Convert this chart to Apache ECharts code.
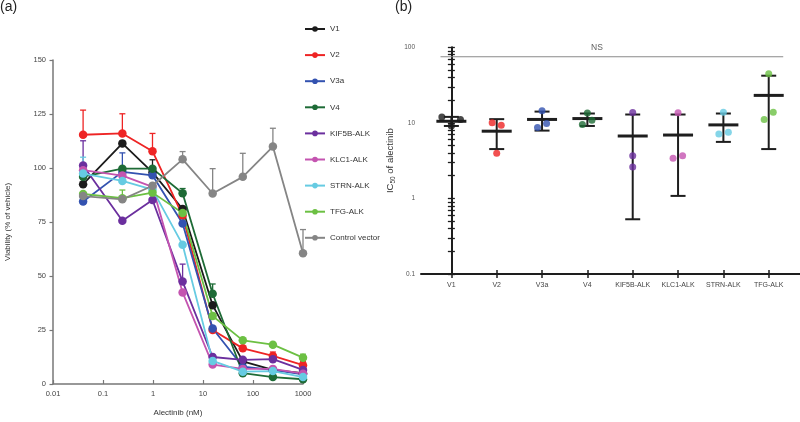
<!DOCTYPE html>
<html><head><meta charset="utf-8">
<script src="https://cdn.jsdelivr.net/npm/echarts@6/dist/echarts.min.js"></script>
<style>html,body{margin:0;padding:0;background:#fff}#c{width:800px;height:422px}</style>
</head><body><div id="c"></div>
<script>
// ---------- Panel (a): dose-response ----------
const doses = [0.04, 0.244, 0.977, 3.91, 15.6, 62.5, 250, 1000];
const doseTickValues = [0.01, 0.1, 1, 10, 100, 1000];
const doseTickLabels = ['0.01', '0.1', '1', '10', '100', '1000'];
const viabTicks = [0, 25, 50, 75, 100, 125, 150];

const seriesNames = ['V1', 'V2', 'V3a', 'V4', 'KIF5B-ALK', 'KLC1-ALK', 'STRN-ALK', 'TFG-ALK', 'Control vector'];
const seriesColors = ['#1c1c1c', '#ee2424', '#3352b0', '#1e6b36', '#6b2f9e', '#c454b0', '#66cbe2', '#6cc043', '#858585'];

const v1   = [92.5, 111.4, 98, 81, 36.5, 10.5, 6.5, 5];
const v2   = [115.4, 116, 107.8, 78, 25, 16.5, 13, 8.7];
const v3a  = [84.5, 98.2, 96.6, 74.3, 25.7, 8, 6.5, 4.5];
const v4   = [96, 99.7, 99.7, 88.3, 41.8, 5, 3.2, 2.2];
const kif5b = [101.2, 75.6, 85.2, 47.4, 12.5, 11.2, 11.5, 6.5];
const klc1 = [99, 96.5, 91.3, 42.4, 9, 7, 7, 4.8];
const strn = [97.4, 94, 90, 64.5, 10.7, 5.7, 6, 3.2];
const tfg  = [88, 86, 88.6, 79.2, 31.5, 20.2, 18.2, 12.2];
const ctrl = [87, 85.5, 91.8, 104, 88.2, 95.9, 109.9, 60.5];

// upper error-bar ends (null = not visible)
const v1Err   = [null, null, 103.8, null, null, null, null, null];
const v2Err   = [126.8, 125.1, 116, null, null, null, 14.8, 10.5];
const v3aErr  = [null, 107, null, null, null, null, null, null];
const v4Err   = [null, null, null, 90.5, 46.3, null, null, null];
const kif5bErr = [112.6, null, null, 55.5, null, null, null, null];
const klc1Err = [null, null, null, null, null, null, null, null];
const strnErr = [105, null, null, null, null, null, null, null];
const tfgErr  = [null, 89.8, null, null, null, null, null, 13.8];
const ctrlErr = [null, null, null, 107.6, 99.7, 106.8, 118.4, 71.5];

const allVals = [v1, v2, v3a, v4, kif5b, klc1, strn, tfg, ctrl];
const allErrs = [v1Err, v2Err, v3aErr, v4Err, kif5bErr, klc1Err, strnErr, tfgErr, ctrlErr];

// ---------- Panel (b): IC50 ----------
const icCats = ['V1', 'V2', 'V3a', 'V4', 'KIF5B-ALK', 'KLC1-ALK', 'STRN-ALK', 'TFG-ALK'];
const icColors = ['#1c1c1c', '#ee2424', '#3352b0', '#1e6b36', '#6b2f9e', '#c454b0', '#66cbe2', '#6cc043'];
const icPoints = [[12.0, 9.1, 11.1], [10.0, 9.3, 3.95], [14.5, 8.7, 9.8], [13.5, 9.5, 10.8],
                  [13.7, 3.68, 2.6], [13.6, 3.4, 3.68], [13.8, 7.1, 7.5], [44.7, 11.1, 13.8]];
const icJitter = [[-0.21, 0, 0.2], [-0.1, 0.1, 0], [0, -0.1, 0.1], [0, -0.11, 0.1],
                  [0, 0, 0], [0, -0.11, 0.1], [0, -0.1, 0.11], [0, -0.1, 0.1]];
const icMean = [10.5, 7.76, 11.1, 11.4, 6.7, 6.9, 9.4, 23.1];
const icLow  = [9.1, 4.5, 7.9, 9.1, 0.53, 1.08, 5.6, 4.5];
const icHigh = [12.0, 11.2, 14.1, 13.3, 12.9, 12.9, 13.3, 42.1];
const icTickValues = [0.1, 1, 10, 100];
const icMinorTicks = [0.1,0.2,0.3,0.4,0.5,0.6,0.7,0.8,0.9,1,2,3,4,5,6,7,8,9,10,20,30,40,50,60,70,80,90,100];
const nsLevel = 75;
const nsSpan = [-0.24, 7.32];
const nsLabelX = 3.21;

const FONT = '"Liberation Sans", Arial, sans-serif';
const chart = echarts.init(document.getElementById('c'), null, {renderer: 'canvas'});

const series = [];
allErrs.forEach((errs, i) => {
  const data = [];
  errs.forEach((e, j) => { if (e !== null) data.push([doses[j], allVals[i][j], e]); });
  const col = seriesColors[i];
  series.push({
    type: 'custom', xAxisIndex: 0, yAxisIndex: 0, z: 2,
    encode: {x: 0, y: [1, 2]},
    data: data,
    renderItem: function (params, api) {
      const p0 = api.coord([api.value(0), api.value(1)]);
      const p1 = api.coord([api.value(0), api.value(2)]);
      return {type: 'group', children: [
        {type: 'line', shape: {x1: p0[0], y1: p0[1], x2: p1[0], y2: p1[1]}, style: {stroke: col, lineWidth: 1.3}},
        {type: 'line', shape: {x1: p1[0] - 3, y1: p1[1], x2: p1[0] + 3, y2: p1[1]}, style: {stroke: col, lineWidth: 1.3}}
      ]};
    }
  });
});
allVals.forEach((vals, i) => {
  series.push({
    name: seriesNames[i], type: 'line', xAxisIndex: 0, yAxisIndex: 0, z: 3,
    data: vals.map((v, j) => [doses[j], v]),
    symbol: 'circle', symbolSize: 8.5,
    lineStyle: {width: 1.8, color: seriesColors[i]},
    itemStyle: {color: seriesColors[i]},
    animation: false
  });
});

const ptData = [];
icPoints.forEach((pts, c) => pts.forEach((v, k) => {
  ptData.push({value: [c + icJitter[c][k], v], itemStyle: {color: icColors[c]}});
}));
series.push({
  type: 'custom', xAxisIndex: 1, yAxisIndex: 1, z: 3,
  encode: {x: 0, y: [1, 2, 3]},
  data: icCats.map((c, i) => [i, icMean[i], icLow[i], icHigh[i]]),
  renderItem: function (params, api) {
    const x = api.value(0);
    const pm = api.coord([x, api.value(1)]);
    const pl = api.coord([x, api.value(2)]);
    const ph = api.coord([x, api.value(3)]);
    const st = {stroke: '#1e1e1e', lineWidth: 2};
    return {type: 'group', children: [
      {type: 'line', shape: {x1: pl[0], y1: pl[1], x2: ph[0], y2: ph[1]}, style: st},
      {type: 'line', shape: {x1: pl[0] - 7.5, y1: pl[1], x2: pl[0] + 7.5, y2: pl[1]}, style: st},
      {type: 'line', shape: {x1: ph[0] - 7.5, y1: ph[1], x2: ph[0] + 7.5, y2: ph[1]}, style: st},
      {type: 'line', shape: {x1: pm[0] - 15, y1: pm[1], x2: pm[0] + 15, y2: pm[1]}, style: {stroke: '#1e1e1e', lineWidth: 3}}
    ]};
  }
});
series.push({
  type: 'scatter', xAxisIndex: 1, yAxisIndex: 1, data: ptData, symbolSize: 7, z: 5
});
series.push({
  type: 'line', xAxisIndex: 1, yAxisIndex: 1, symbol: 'none', silent: true,
  data: [[nsSpan[0], nsLevel], [nsSpan[1], nsLevel]],
  lineStyle: {color: '#8a8a8a', width: 1.2}
});
series.push({
  type: 'scatter', xAxisIndex: 1, yAxisIndex: 1, symbolSize: 0, silent: true,
  data: [[nsLabelX, nsLevel]],
  label: {show: true, formatter: 'NS', position: 'top', distance: 5, fontSize: 8.5, color: '#333', fontFamily: FONT}
});

const labelStyleA = {fontSize: 7.5, color: '#444', fontFamily: FONT};
const labelStyleB = {fontSize: 6.5, color: '#555', fontFamily: FONT};
const catIdx = icCats.map((c, i) => i);

const option = {
  animation: false,
  textStyle: {fontFamily: FONT},
  title: [
    {text: '(a)', left: 0, top: 0, textStyle: {fontSize: 14, fontWeight: 'normal', color: '#222', fontFamily: FONT}, padding: 0},
    {text: '(b)', left: 395, top: 0, textStyle: {fontSize: 14, fontWeight: 'normal', color: '#222', fontFamily: FONT}, padding: 0}
  ],
  legend: {
    data: seriesNames, orient: 'vertical', left: 299, top: 20,
    itemWidth: 20, itemHeight: 7, itemGap: 18.1,
    textStyle: {fontSize: 8, color: '#333', fontFamily: FONT},
    selectedMode: false
  },
  grid: [
    {left: 53, top: 60, width: 250, height: 328},
    {left: 421, top: 47.3, right: 0, height: 226.7}
  ],
  xAxis: [
    {
      type: 'log', gridIndex: 0, min: 0.01, max: 1000, logBase: 10,
      name: 'Alectinib (nM)', nameLocation: 'middle', nameGap: 25,
      nameTextStyle: {fontSize: 8, color: '#333', fontFamily: FONT},
      axisLine: {lineStyle: {color: '#777', width: 1.5}},
      axisTick: {inside: true, length: 4, lineStyle: {color: '#777', width: 1.2}, customValues: doseTickValues},
      axisLabel: Object.assign({customValues: doseTickValues, margin: 6,
        formatter: v => doseTickLabels[doseTickValues.findIndex(t => Math.abs(Math.log10(t) - Math.log10(v)) < 1e-6)] || ''}, labelStyleA),
      splitLine: {show: false}, minorTick: {show: false}
    },
    {
      type: 'value', gridIndex: 1, position: 'bottom', min: -0.67, max: 7.69,
      axisLine: {lineStyle: {color: '#1e1e1e', width: 2}},
      axisTick: {length: 4, lineStyle: {color: '#1e1e1e', width: 1.5}, customValues: catIdx},
      axisLabel: {customValues: catIdx, margin: 8, formatter: v => icCats[Math.round(v)] || '',
        fontSize: 7, color: '#444', fontFamily: FONT},
      splitLine: {show: false}
    },
    {
      type: 'value', gridIndex: 1, position: 'bottom', min: -0.67, max: 7.69,
      axisLine: {show: false},
      axisTick: {inside: true, length: 4, lineStyle: {color: '#1e1e1e', width: 1.5}, customValues: catIdx},
      axisLabel: {show: false}, splitLine: {show: false}
    }
  ],
  yAxis: [
    {
      type: 'value', gridIndex: 0, min: 0, max: 150, interval: 25,
      name: 'Viability (% of vehicle)', nameLocation: 'middle', nameGap: 41,
      nameTextStyle: {fontSize: 8, color: '#333', fontFamily: FONT},
      axisLine: {show: true, lineStyle: {color: '#777', width: 1.5}},
      axisTick: {show: true, length: 3.5, lineStyle: {color: '#777', width: 1.2}, customValues: viabTicks},
      axisLabel: Object.assign({margin: 7, customValues: viabTicks}, labelStyleA),
      splitLine: {show: false}
    },
    {
      type: 'log', gridIndex: 1, position: 'left', min: 0.1, max: 100, logBase: 10,
      name: 'IC{sub|50} of alectinib', nameLocation: 'middle', nameGap: 24,
      nameTextStyle: {fontSize: 9.5, color: '#333', fontFamily: FONT,
        rich: {sub: {fontSize: 6.5, color: '#333', fontFamily: FONT, padding: [6, 0, 0, 0]}}},
      axisLine: {show: true, lineStyle: {color: '#1e1e1e', width: 2}},
      axisTick: {show: true, length: 3.5, lineStyle: {color: '#1e1e1e', width: 1.3}, customValues: icMinorTicks},
      axisLabel: Object.assign({margin: 6, customValues: icTickValues,
        formatter: v => (v < 0.5 ? '0.1' : String(Math.round(v)))}, labelStyleB),
      splitLine: {show: false}, minorTick: {show: false}
    },
    {
      type: 'log', gridIndex: 1, position: 'left', min: 0.1, max: 100, logBase: 10,
      axisLine: {show: false},
      axisTick: {show: true, inside: true, length: 3.5, lineStyle: {color: '#1e1e1e', width: 1.3}, customValues: icMinorTicks},
      axisLabel: {show: false}, splitLine: {show: false}
    }
  ],
  series: series
};
chart.setOption(option);
</script>
</body></html>
